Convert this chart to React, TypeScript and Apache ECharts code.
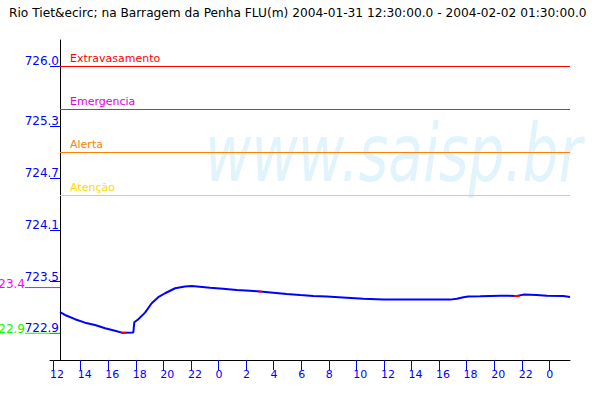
import { useEffect, useRef } from 'react';
import * as echarts from 'echarts';

const TITLE = 'Rio Tiet&ecirc; na Barragem da Penha FLU(m) 2004-01-31 12:30:00.0 - 2004-02-02 01:30:00.0';

// hours since 2004-01-31 00:00
const HOURS = [12.5, 12.86, 13.59, 14.31, 15.04, 15.77, 16.49, 16.98, 17.82, 17.89, 18.18, 18.67, 19.15, 19.63, 20.12, 20.85, 21.57, 22.06, 23.39, 24.33, 25.32, 26.29, 27.01, 27.98, 28.95, 29.92, 30.88, 31.85, 33.31, 34.51, 35.96, 40.8, 41.29, 41.77, 42.11, 42.98, 44.43, 45.64, 46.12, 47.09, 47.82, 49.02, 49.5];
const LEVELS = [723.144, 723.112, 723.063, 723.023, 722.996, 722.958, 722.93, 722.907, 722.909, 723.028, 723.063, 723.139, 723.248, 723.318, 723.364, 723.422, 723.441, 723.449, 723.429, 723.417, 723.402, 723.394, 723.383, 723.371, 723.356, 723.344, 723.333, 723.325, 723.313, 723.301, 723.29, 723.29, 723.301, 723.318, 723.327, 723.329, 723.336, 723.333, 723.348, 723.344, 723.336, 723.333, 723.321];

// short red flagged segments [startHour, endHour, level]
const FLAG_START = [16.96, 26.89, 45.44];
const FLAG_END = [17.3, 27.14, 45.83];
const FLAG_LEVEL = [722.907, 723.383, 723.333];

const X_TICKS = [12, 14, 16, 18, 20, 22, 24, 26, 28, 30, 32, 34, 36, 38, 40, 42, 44, 46, 48];
const Y_TICKS = [722.9, 723.5, 724.1, 724.7, 725.3, 726.0];

const THRESHOLD_NAMES = ['Extravasamento', 'Emergencia', 'Alerta', 'Atenção'];
const THRESHOLD_VALUES = [726.0, 725.5, 725.0, 724.5];
const THRESHOLD_COLORS = ['#FF0000', '#E000E0', '#FF8000', '#FFD800'];

const MARK_LABELS = ['723.4', '722.9'];
const MARK_VALUES = [723.43, 722.9];
const MARK_COLORS = ['#FF00FF', '#00FF00'];

const START_H = 12.5;
const END_H = 49.5;
const X_MIN = 11.774;
const Y_MIN = 722.59;
const Y_MAX = 726.3;
const FONT = 'DejaVu Sans';

export default function App() {
  const ref = useRef<HTMLDivElement>(null);
  useEffect(() => {
    if (!ref.current) return;
    const chart = echarts.init(ref.current, null, { renderer: 'svg' });
    const flagData: any[] = [];
    FLAG_START.forEach((s, i) => {
      flagData.push([s, FLAG_LEVEL[i]], [FLAG_END[i], FLAG_LEVEL[i]], [FLAG_END[i] + 0.01, '-']);
    });
    chart.setOption({
      animation: false,
      backgroundColor: '#FFFFFF',
      title: {
        text: TITLE,
        left: 4,
        top: 2,
        textStyle: { fontFamily: FONT, fontSize: 12.2, fontWeight: 'normal', color: '#000000' },
      },
      grid: { left: 50, right: 30, top: 40, bottom: 40 },
      xAxis: {
        type: 'value',
        min: X_MIN,
        max: END_H,
        axisLine: { lineStyle: { color: '#000000', width: 1 } },
        axisTick: { show: true, length: 10, customValues: X_TICKS, lineStyle: { color: '#0000FF' } },
        axisLabel: {
          customValues: X_TICKS.map((h) => h - 0.22),
          formatter: (v: number) => String(Math.round(v) % 24),
          align: 'left',
          margin: 9,
          color: '#0000FF',
          fontFamily: FONT,
          fontSize: 11,
        },
        splitLine: { show: false },
      },
      yAxis: {
        type: 'value',
        min: Y_MIN,
        max: Y_MAX,
        offset: -10,
        axisLine: { show: true, lineStyle: { color: '#000000', width: 1 } },
        axisTick: { show: true, length: 10, customValues: Y_TICKS, lineStyle: { color: '#0000FF' } },
        axisLabel: {
          customValues: Y_TICKS,
          formatter: (v: number) => v.toFixed(1),
          margin: 1,
          verticalAlign: 'bottom',
          lineHeight: 10,
          color: '#0000FF',
          fontFamily: FONT,
          fontSize: 12,
        },
        splitLine: { show: false },
      },
      series: [
        {
          type: 'line',
          data: HOURS.map((h, i) => [h, LEVELS[i]]),
          showSymbol: false,
          symbol: 'none',
          lineStyle: { color: '#0000FF', width: 2 },
          z: 3,
          markLine: {
            silent: true,
            symbol: 'none',
            label: { show: false },
            data: THRESHOLD_VALUES.map((v, i) => [
              { coord: [START_H, v], lineStyle: { color: THRESHOLD_COLORS[i], width: 1, type: 'solid' } },
              { coord: [END_H, v] },
            ]),
          },
        },
        {
          type: 'line',
          data: flagData,
          showSymbol: false,
          symbol: 'none',
          connectNulls: false,
          lineStyle: { color: '#FF0000', width: 2 },
          z: 4,
        },
      ],
    });

    const extra: any[] = [
      {
        id: 'watermark',
        type: 'text',
        x: 205,
        y: 193,
        scaleX: 0.71,
        z: -10,
        silent: true,
        style: {
          text: 'www.saisp.br',
          x: 0,
          y: 0,
          fill: '#E1F4FC',
          fontFamily: FONT,
          fontStyle: 'italic',
          fontSize: 80,
          verticalAlign: 'bottom',
        },
      },
    ];
    THRESHOLD_VALUES.forEach((v, i) => {
      const p = chart.convertToPixel({ gridIndex: 0 }, [START_H, v]) as number[];
      extra.push({
        id: 'thr' + i,
        type: 'text',
        x: p[0] + 10,
        y: p[1] - 2,
        silent: true,
        style: {
          text: THRESHOLD_NAMES[i],
          fill: THRESHOLD_COLORS[i],
          fontFamily: FONT,
          fontSize: 11,
          verticalAlign: 'bottom',
        },
      });
    });
    MARK_VALUES.forEach((v, i) => {
      const p = chart.convertToPixel({ gridIndex: 0 }, [START_H, v]) as number[];
      extra.push({
        id: 'markline' + i,
        type: 'line',
        silent: true,
        shape: { x1: 25, y1: p[1], x2: p[0], y2: p[1] },
        style: { stroke: MARK_COLORS[i], lineWidth: 1 },
        z: 1,
      });
      extra.push({
        id: 'marktext' + i,
        type: 'text',
        x: 25,
        y: p[1] + 1,
        silent: true,
        style: {
          text: MARK_LABELS[i],
          fill: MARK_COLORS[i],
          fontFamily: FONT,
          fontSize: 12,
          align: 'right',
          verticalAlign: 'bottom',
          lineHeight: 10,
        },
      });
    });
    chart.setOption({ graphic: extra });
    return () => chart.dispose();
  }, []);
  return <div ref={ref} style={{ position: 'absolute', left: 0, top: 0, width: 600, height: 400 }} />;
}
